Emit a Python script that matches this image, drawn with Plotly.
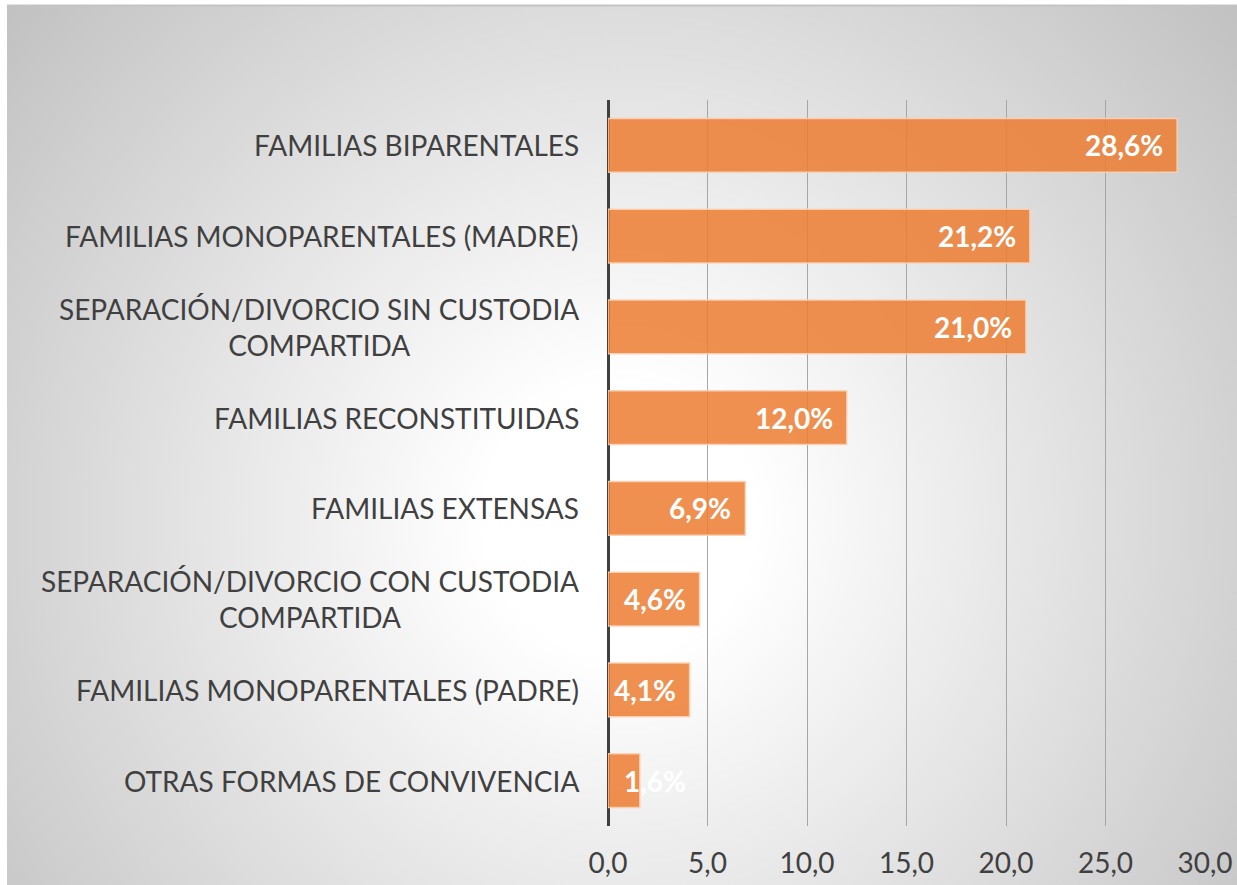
import base64
import plotly.graph_objects as go

categories = [
    "FAMILIAS BIPARENTALES",
    "FAMILIAS MONOPARENTALES (MADRE)",
    "SEPARACIÓN/DIVORCIO SIN CUSTODIA<br>COMPARTIDA",
    "FAMILIAS RECONSTITUIDAS",
    "FAMILIAS EXTENSAS",
    "SEPARACIÓN/DIVORCIO CON CUSTODIA<br>COMPARTIDA",
    "FAMILIAS MONOPARENTALES (PADRE)",
    "OTRAS FORMAS DE CONVIVENCIA",
]
values = [28.6, 21.2, 21.0, 12.0, 6.9, 4.6, 4.1, 1.6]
x_ticks = [0, 5, 10, 15, 20, 25, 30]

FONT = "Lato"
TXT = "#404040"

W, H = 1237, 885
L, R, T, B = 608, 32, 100, 59
pw, ph = W - L - R, H - T - B

# panel (gradient) area
PX0, PY0 = 7, 6
PW, PH = W - PX0, H - PY0

svg = f'''<svg xmlns="http://www.w3.org/2000/svg" width="{PW}" height="{PH}" viewBox="0 0 {PW} {PH}" preserveAspectRatio="none">
<defs><radialGradient id="g" gradientUnits="userSpaceOnUse" cx="613" cy="514" r="900" fx="613" fy="514">
<stop offset="0" stop-color="#ffffff"/><stop offset="0.15" stop-color="#ffffff"/>
<stop offset="1" stop-color="#b8b8b8"/></radialGradient></defs>
<rect width="{PW}" height="{PH}" fill="url(#g)"/></svg>'''
src = "data:image/svg+xml;base64," + base64.b64encode(svg.encode()).decode()


def px2paper_x(p):
    return (p - L) / pw


def px2paper_y(p):
    return (H - B - p) / ph


fig = go.Figure()
fig.add_trace(go.Bar(
    x=values, y=categories, orientation="h",
    marker=dict(color="rgba(237,125,49,0.85)",
                line=dict(color="rgba(250,210,180,0.9)", width=1.5)),
    hoverinfo="skip",
))

annotations = []
for c, v in zip(categories, values):
    annotations.append(dict(
        x=0, y=c, xref="x", yref="y", text=c, showarrow=False,
        xanchor="right", xshift=-27, align="center",
        font=dict(family=FONT, size=28, color=TXT),
    ))
    lab = f"{v:.1f}".replace(".", ",") + "%"
    if v >= 3:
        annotations.append(dict(x=v, y=c, xref="x", yref="y", text=f"<b>{lab}</b>",
                                showarrow=False, xanchor="right", xshift=-12,
                                font=dict(family=FONT, size=28, color="white")))
    else:
        annotations.append(dict(x=0, y=c, xref="x", yref="y", text=f"<b>{lab}</b>",
                                showarrow=False, xanchor="left", xshift=14,
                                font=dict(family=FONT, size=28, color="white")))

fig.update_layout(
    width=W, height=H, autosize=False,
    margin=dict(l=L, r=R, t=T, b=B, pad=0, autoexpand=False),
    paper_bgcolor="white", plot_bgcolor="rgba(0,0,0,0)",
    bargap=0.405, showlegend=False,
    separators=",.",
    annotations=annotations,
    images=[dict(source=src, xref="paper", yref="paper",
                 x=px2paper_x(PX0), y=px2paper_y(PY0),
                 sizex=px2paper_x(W) - px2paper_x(PX0),
                 sizey=px2paper_y(PY0) - px2paper_y(H),
                 xanchor="left", yanchor="top", sizing="stretch", layer="below")],
    shapes=[dict(type="line", xref="paper", yref="paper",
                 x0=px2paper_x(PX0), x1=px2paper_x(W), y0=px2paper_y(5.5), y1=px2paper_y(5.5),
                 line=dict(color="#c4c4c4", width=2))],
    xaxis=dict(range=[0, 30], tickvals=x_ticks, tickformat=".1f",
               showgrid=True, gridcolor="#a6a6a6", gridwidth=1,
               zeroline=True, zerolinecolor="#404040", zerolinewidth=3,
               showline=False, ticks="", ticklabelstandoff=18, automargin=False,
               tickfont=dict(family=FONT, size=28, color=TXT)),
    yaxis=dict(autorange="reversed", showticklabels=False, showgrid=False,
               zeroline=False, showline=False, ticks="", automargin=False),
)

fig.write_html("out.html",
               config={"responsive": False, "displayModeBar": False},
               post_script="document.body.style.margin='0';document.body.style.overflow='hidden';")
